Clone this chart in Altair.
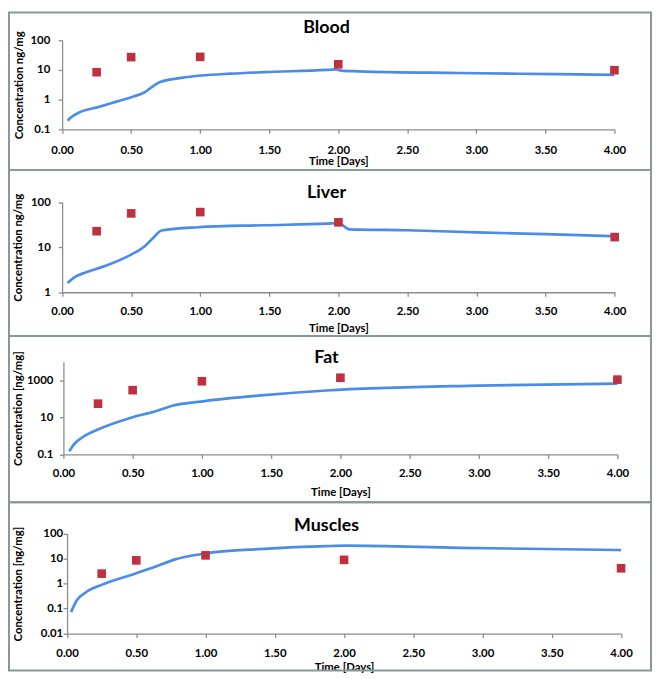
import altair as alt
import pandas as pd

# ---------------- data ----------------
sample_times = [0.25, 0.5, 1.0, 2.0, 4.0]
blood_obs = [8.4, 27.1, 27.6, 15.5, 9.8]
liver_obs = [22.7, 56.5, 60.3, 35.8, 16.8]
fat_obs = [55, 295, 890, 1380, 1090]
muscle_obs = [2.5, 8.5, 13.5, 8.9, 4.1]

blood_t = [0.04, 0.064, 0.124, 0.267, 0.387, 0.506, 0.60, 0.66, 0.709, 0.864, 1.007, 1.22, 1.46, 1.915, 1.986, 2.02, 2.15, 2.87, 3.59, 4.0]
blood_v = [0.195, 0.25, 0.37, 0.57, 0.84, 1.23, 1.8, 2.86, 3.9, 5.4, 6.5, 7.5, 8.4, 10.0, 10.4, 9.5, 9.0, 7.9, 7.2, 6.8]

liver_t = [0.04, 0.088, 0.17, 0.315, 0.506, 0.60, 0.66, 0.72, 0.984, 1.46, 1.915, 2.0, 2.08, 2.5, 3.0, 3.5, 4.0]
liver_v = [1.6, 2.14, 2.75, 3.86, 7.0, 10.6, 16.2, 23.5, 27.8, 30.8, 33.5, 34.5, 25.0, 23.8, 21.4, 19.5, 17.6]

fat_t = [0.043, 0.079, 0.138, 0.257, 0.495, 0.66, 0.78, 1.02, 1.45, 1.9, 3.0, 4.0]
fat_v = [0.15, 0.37, 0.85, 2.35, 10, 20.6, 41, 76, 158, 282, 520, 660]

muscle_t = [0.029, 0.069, 0.136, 0.254, 0.49, 0.636, 0.78, 0.99, 1.42, 1.87, 2.02, 2.83, 4.0]
muscle_v = [0.072, 0.21, 0.45, 0.91, 2.5, 4.7, 9.3, 15.8, 24.5, 31.7, 33.0, 27.0, 22.0]

x_ticks = [0, 0.5, 1.0, 1.5, 2.0, 2.5, 3.0, 3.5, 4.0]

FONT = "Lato"
AXIS_GRAY = "#8C8C8C"
LINE_BLUE = "#4A8CE8"
SQUARE_RED = "#C0313F"
BOX_GRAY = "#8A9797"

W, H = 652, 669


def panel(title, t, v, obs, y_domain, y_ticks, ytitle,
          x_range, y_range, lab_pad_y, ytitle_x, title_y, box,
          xlab_pad, xtitle_y):
    df = pd.concat([
        pd.DataFrame({"t": t, "v": v, "kind": "model"}),
        pd.DataFrame({"t": sample_times, "v": obs, "kind": "obs"}),
    ])
    x_start, x_end = x_range
    y_bottom, y_top = y_range
    xs = alt.Scale(domain=[0, 4], range=[x_start, x_end], nice=False, zero=False)
    ys = alt.Scale(type="log", domain=y_domain, range=[y_bottom, y_top], nice=False)
    xaxis = alt.Axis(values=x_ticks, format=".2f", title="Time [Days]", orient="bottom",
                     offset=y_bottom - H, tickSize=4, labelPadding=xlab_pad,
                     labelFlush=False, titleY=xtitle_y, titleBaseline="middle", grid=False)
    yaxis = alt.Axis(values=y_ticks, format="~f", title=ytitle, orient="left",
                     offset=-x_start, tickSize=4, labelPadding=lab_pad_y,
                     titleX=ytitle_x, titleBaseline="middle", grid=False)
    base = alt.Chart(df).encode(
        x=alt.X("t:Q", scale=xs, axis=xaxis),
        y=alt.Y("v:Q", scale=ys, axis=yaxis),
    )
    line = base.transform_filter(alt.datum.kind == "model").mark_line(
        color=LINE_BLUE, strokeWidth=2.7, interpolate="monotone")
    pts = base.transform_filter(alt.datum.kind == "obs").mark_point(
        shape="square", filled=True, size=76, color=SQUARE_RED, opacity=1)
    one = pd.DataFrame({"k": [0]})
    bx = alt.Chart(one).mark_rect(
        fill="transparent", stroke=BOX_GRAY, strokeWidth=2).encode(
        x=alt.value(box[0]), x2=alt.value(box[1]),
        y=alt.value(box[2]), y2=alt.value(box[3]))
    ttl = alt.Chart(one).mark_text(
        text=title, font=FONT, fontSize=18, fontWeight="bold", color="#000000",
        align="center", baseline="alphabetic").encode(
        x=alt.value(322), y=alt.value(title_y))
    return bx, ttl, alt.layer(line, pts)


b_box, b_ttl, b_plot = panel("Blood", blood_t, blood_v, blood_obs, [0.1, 100],
                             [0.1, 1, 10, 100], "Concentration ng/mg",
                             (54.7, 613), (119, 29), 8.5, -42.7, 22, (1, 650, 1, 160), 11, 33)
l_box, l_ttl, l_plot = panel("Liver", liver_t, liver_v, liver_obs, [1, 100],
                             [1, 10, 100], "Concentration ng/mg",
                             (54.7, 613.3), (283.7, 192.7), 8, -44.4, 188, (1, 650, 160, 328), 10, 37)
f_box, f_ttl, f_plot = panel("Fat", fat_t, fat_v, fat_obs, [0.1, 10000],
                             [0.1, 10, 1000], "Concentration [ng/mg]",
                             (56, 616), (447.7, 354), 6.7, -45.7, 355, (1, 650, 328, 496), 9.5, 38)
m_box, m_ttl, m_plot = panel("Muscles", muscle_t, muscle_v, muscle_obs, [0.01, 100],
                             [0.01, 0.1, 1, 10, 100], "Concentration [ng/mg]",
                             (59.7, 619.7), (628.7, 527.7), 0.5, -49.4, 525, (1, 650, 496, 666), 10, 34)

chart = alt.layer(
    b_box, l_box, f_box, m_box,
    b_plot, l_plot, f_plot, m_plot,
    b_ttl, l_ttl, f_ttl, m_ttl,
).resolve_scale(
    x="independent", y="independent"
).properties(
    width=W, height=H, padding=0, background="white",
    autosize=alt.AutoSizeParams(type="none"),
).configure_view(
    stroke="transparent"
).configure_axis(
    domainColor=AXIS_GRAY, tickColor=AXIS_GRAY, domainWidth=1.3, tickWidth=1.3,
    labelFont=FONT, labelFontSize=11.5, labelFontWeight="bold", labelColor="#000000",
    titleFont=FONT, titleFontSize=11.5, titleFontWeight="bold", titleColor="#000000",
)

chart.save("out.html", embed_options={"renderer": "svg", "actions": False})
